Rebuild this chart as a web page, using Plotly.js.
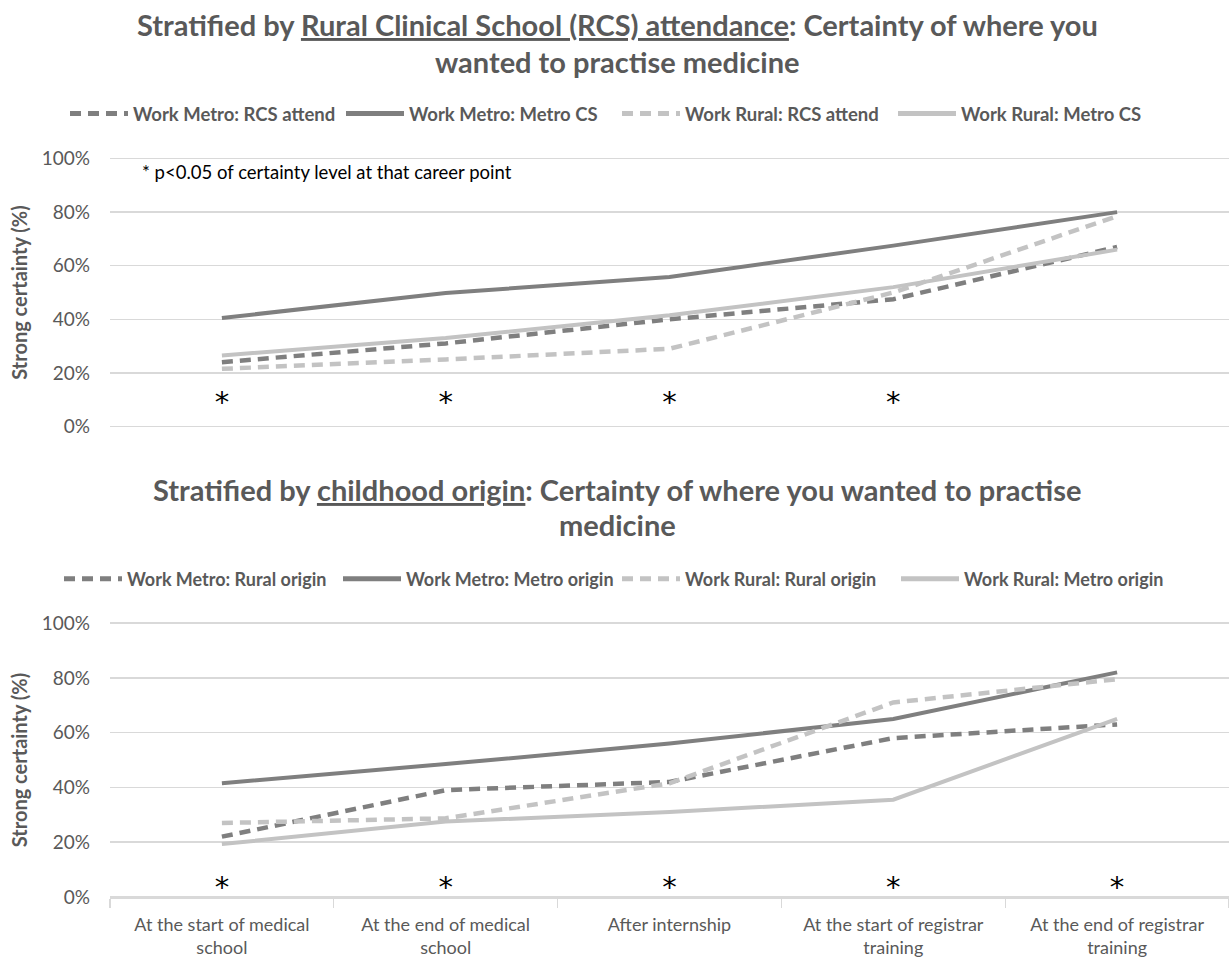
<!DOCTYPE html>
<html>
<head>
<meta charset="utf-8">
<script src="https://cdn.plot.ly/plotly-3.0.1.min.js"></script>
<style>html,body{margin:0;padding:0;background:#fff;}#chart{width:1229px;height:960px;}</style>
</head>
<body>
<div id="chart"></div>
<script>
// ---- data ----
const categories = [
  "At the start of medical<br>school",
  "At the end of medical<br>school",
  "After internship",
  "At the start of registrar<br>training",
  "At the end of registrar<br>training"
];

// Top chart: stratified by RCS attendance (fraction with strong certainty)
const rcsSeriesNames = [
  "Work Metro: RCS attend",
  "Work Metro: Metro CS",
  "Work Rural: RCS attend",
  "Work Rural: Metro CS"
];
const metroRcsAttend = [0.24, 0.31, 0.40, 0.475, 0.67];
const metroMetroCS   = [0.405, 0.498, 0.558, 0.675, 0.80];
const ruralRcsAttend = [0.215, 0.25, 0.29, 0.50, 0.785];
const ruralMetroCS   = [0.265, 0.33, 0.415, 0.52, 0.66];
const rcsSignificant = [0, 1, 2, 3]; // category indices with p<0.05

// Bottom chart: stratified by childhood origin
const originSeriesNames = [
  "Work Metro: Rural origin",
  "Work Metro: Metro origin",
  "Work Rural: Rural origin",
  "Work Rural: Metro origin"
];
const metroRuralOrigin = [0.22, 0.39, 0.42, 0.58, 0.63];
const metroMetroOrigin = [0.415, 0.485, 0.56, 0.65, 0.82];
const ruralRuralOrigin = [0.27, 0.287, 0.415, 0.71, 0.795];
const ruralMetroOrigin = [0.193, 0.275, 0.31, 0.355, 0.65];
const originSignificant = [0, 1, 2, 3, 4];

const yTickVals = [0, 0.2, 0.4, 0.6, 0.8, 1.0];
const yTickText = ["0%", "20%", "40%", "60%", "80%", "100%"];

// ---- styling ----
const DARK = "#7f7f7f";
const LIGHT = "#c3c3c3";
const TXT = "#595959";
const GRID = "#d9d9d9";
const FONT = "Lato, 'Open Sans', sans-serif";
const DASH = "11px,7px";

const styles = [
  {color: DARK, dash: DASH, width: 4.5},
  {color: DARK, dash: "solid", width: 4},
  {color: LIGHT, dash: DASH, width: 4.5},
  {color: LIGHT, dash: "solid", width: 4}
];

function makeTraces(names, series, xa, ya, legend) {
  return series.map((vals, i) => ({
    type: "scatter", mode: "lines",
    x: categories, y: vals,
    xaxis: xa, yaxis: ya,
    name: names[i], legend: legend,
    line: {color: styles[i].color, dash: styles[i].dash, width: styles[i].width},
    hoverinfo: "skip"
  }));
}

const traces = [
  ...makeTraces(rcsSeriesNames, [metroRcsAttend, metroMetroCS, ruralRcsAttend, ruralMetroCS], "x", "y", "legend"),
  ...makeTraces(originSeriesNames, [metroRuralOrigin, metroMetroOrigin, ruralRuralOrigin, ruralMetroOrigin], "x2", "y2", "legend2"),
  {
    type: "scatter", mode: "text", showlegend: false, hoverinfo: "skip",
    x: rcsSignificant.map(i => categories[i]),
    y: rcsSignificant.map(() => 0.082),
    text: rcsSignificant.map(() => "*"),
    textfont: {family: "DejaVu Sans", size: 29, color: "#000"},
    xaxis: "x", yaxis: "y"
  },
  {
    type: "scatter", mode: "text", showlegend: false, hoverinfo: "skip",
    x: originSignificant.map(i => categories[i]),
    y: originSignificant.map(() => 0.027),
    text: originSignificant.map(() => "*"),
    textfont: {family: "DejaVu Sans", size: 29, color: "#000"},
    xaxis: "x2", yaxis: "y2"
  }
];

const H = 898; // plot-area height in px (960 - bottom margin)
const px2paperY = py => Math.max(0, Math.min(1, 1 - py / H));
const px2paperX = px => (px - 110) / 1119;

const yaxisBase = {
  range: [-0.004, 1.004],
  tickvals: yTickVals, ticktext: yTickText,
  tickfont: {family: FONT, size: 19, color: TXT},
  showgrid: true, gridcolor: GRID, gridwidth: 1.4,
  zeroline: false, showline: false, ticks: "",
  ticklabelstandoff: 19,
  automargin: false,
  fixedrange: true,
  title: {text: "<b>Strong certainty (%)</b>", font: {family: FONT, size: 20, color: TXT}, standoff: 8}
};

const legendBase = {
  orientation: "h", xref: "container", yref: "paper",
  x: 617 / 1229, xanchor: "center", yanchor: "middle",
  font: {family: FONT, size: 18.5, color: TXT, weight: "bold"},
  itemwidth: 58, itemsizing: "constant",
  entrywidthmode: "pixels", entrywidth: 203,
  bgcolor: "rgba(0,0,0,0)", tracegroupgap: 0,
  traceorder: "normal"
};

const titleFont = {family: FONT, size: 29, color: TXT, weight: "bold"};
const titleX = px2paperX(617);

const layout = {
  width: 1229, height: 960,
  margin: {l: 110, r: 0, t: 0, b: 62, autoexpand: false},
  paper_bgcolor: "#fff", plot_bgcolor: "#fff",
  showlegend: true,
  xaxis: {
    domain: [0, 1], anchor: "y", type: "category",
    range: [-0.5, 4.5], showticklabels: false, showgrid: false,
    zeroline: false, showline: false, ticks: "", fixedrange: true, automargin: false
  },
  yaxis: Object.assign({}, yaxisBase, {domain: [px2paperY(427.5), px2paperY(157.5)], anchor: "x"}),
  xaxis2: {
    domain: [0, 1], anchor: "y2", type: "category",
    range: [-0.5, 4.5], showgrid: false, zeroline: false,
    showline: true, linecolor: GRID, linewidth: 1.4,
    ticks: "outside", tickson: "boundaries", ticklen: 9, tickcolor: GRID, tickwidth: 1.4,
    ticklabelstandoff: 10,
    tickfont: {family: FONT, size: 18, color: TXT}, fixedrange: true, automargin: false
  },
  yaxis2: Object.assign({}, yaxisBase, {domain: [px2paperY(899), px2paperY(622)], anchor: "x2"}),
  legend: Object.assign({}, legendBase, {y: px2paperY(114)}),
  legend2: Object.assign({}, legendBase, {
    y: px2paperY(579), entrywidth: 206,
    font: {family: FONT, size: 18, color: TXT, weight: "bold"}
  }),
  annotations: [
    {xref: "paper", yref: "paper", x: titleX, y: px2paperY(25), xanchor: "center", yanchor: "middle", showarrow: false,
     text: "Stratified by <u>Rural Clinical School (RCS) attendance</u>: Certainty of where you", font: titleFont},
    {xref: "paper", yref: "paper", x: titleX, y: px2paperY(62), xanchor: "center", yanchor: "middle", showarrow: false,
     text: "wanted to practise medicine", font: titleFont},
    {xref: "paper", yref: "paper", x: titleX, y: px2paperY(490), xanchor: "center", yanchor: "middle", showarrow: false,
     text: "Stratified by <u>childhood origin</u>: Certainty of where you wanted to practise", font: titleFont},
    {xref: "paper", yref: "paper", x: titleX, y: px2paperY(524), xanchor: "center", yanchor: "middle", showarrow: false,
     text: "medicine", font: titleFont},
    {xref: "paper", yref: "paper", x: px2paperX(140), y: px2paperY(172), xanchor: "left", yanchor: "middle", showarrow: false,
     text: "* p<0.05 of certainty level at that career point", font: {family: FONT, size: 18.5, color: "#000"}}
  ]
};

Plotly.newPlot("chart", traces, layout, {displayModeBar: false, staticPlot: true});
</script>
</body>
</html>
